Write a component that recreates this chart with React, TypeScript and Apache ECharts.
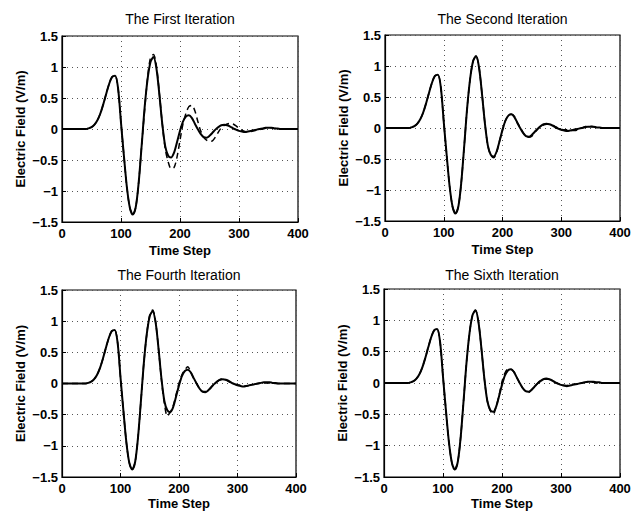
import React, { useEffect, useRef } from "react";
import * as echarts from "echarts";

const steps: number[] = [
  0, 5, 10, 15, 20, 25, 30, 35, 40, 45, 50, 55, 60, 65, 70, 75, 80, 85, 90, 95,
  100, 105, 110, 115, 120, 125, 130, 135, 140, 145, 150, 155, 160, 165, 170, 175, 180, 185, 190, 195,
  200, 205, 210, 215, 220, 225, 230, 235, 240, 245, 250, 255, 260, 265, 270, 275, 280, 285, 290, 295,
  300, 305, 310, 315, 320, 325, 330, 335, 340, 345, 350, 355, 360, 365, 370, 375, 380, 385, 390, 395, 400,
];

// target field (solid)
const target: number[] = [
  0, 0, 0, 0, 0, 0, 0, 0, 0, 0.01, 0.03, 0.07, 0.14, 0.25, 0.4, 0.57, 0.73, 0.84, 0.86, 0.66,
  0.1, -0.44, -0.94, -1.27, -1.38, -1.26, -0.86, -0.27, 0.34, 0.8, 1.08, 1.16, 0.98, 0.56, 0.08, -0.28, -0.43, -0.46, -0.38, -0.21,
  -0.03, 0.12, 0.2, 0.22, 0.18, 0.09, 0.0, -0.08, -0.13, -0.14, -0.11, -0.06, -0.01, 0.03, 0.06, 0.07, 0.06, 0.04, 0.01, -0.01,
  -0.03, -0.04, -0.05, -0.04, -0.03, -0.02, -0.01, 0.0, 0.01, 0.02, 0.02, 0.02, 0.01, 0.01, 0, 0, 0, 0, 0, 0, 0,
];

// reconstructed field after each iteration (dashed)
const iter1: number[] = [
  0, 0, 0, 0, 0, 0, 0, 0, 0, 0.01, 0.03, 0.07, 0.14, 0.25, 0.4, 0.57, 0.73, 0.84, 0.86, 0.66,
  0.1, -0.44, -0.94, -1.27, -1.38, -1.26, -0.86, -0.27, 0.3, 0.82, 1.15, 1.2, 1.02, 0.58, 0.08, -0.32, -0.53, -0.64, -0.62, -0.45,
  -0.18, 0.08, 0.25, 0.36, 0.38, 0.3, 0.13, -0.03, -0.13, -0.18, -0.2, -0.19, -0.13, -0.05, 0.02, 0.06, 0.08, 0.09, 0.08, 0.05,
  0.01, -0.02, -0.04, -0.05, -0.04, -0.03, -0.02, -0.01, 0.0, 0.01, 0.02, 0.02, 0.01, 0.01, 0, 0, 0, 0, 0, 0, 0,
];

const iter2: number[] = [
  0, 0, 0, 0, 0, 0, 0, 0, 0, 0.01, 0.03, 0.07, 0.14, 0.25, 0.4, 0.57, 0.73, 0.84, 0.86, 0.66,
  0.1, -0.44, -0.94, -1.27, -1.38, -1.26, -0.86, -0.27, 0.34, 0.8, 1.08, 1.16, 0.98, 0.56, 0.08, -0.28, -0.44, -0.48, -0.39, -0.21,
  -0.03, 0.12, 0.2, 0.22, 0.19, 0.09, 0.01, -0.07, -0.14, -0.15, -0.13, -0.07, -0.02, 0.03, 0.05, 0.06, 0.06, 0.05, 0.02, 0.0,
  -0.02, -0.03, -0.03, -0.04, -0.04, -0.04, -0.02, 0.0, 0.02, 0.03, 0.03, 0.02, 0.01, 0.0, 0, 0, 0, 0, 0, 0, 0,
];

const iter4: number[] = [
  0, 0, 0, 0, 0, 0, 0, 0, 0, 0.01, 0.03, 0.07, 0.14, 0.25, 0.4, 0.57, 0.73, 0.84, 0.86, 0.66,
  0.1, -0.44, -0.94, -1.27, -1.38, -1.26, -0.86, -0.27, 0.34, 0.8, 1.1, 1.18, 0.99, 0.56, 0.06, -0.32, -0.52, -0.46, -0.36, -0.18,
  0.0, 0.14, 0.22, 0.27, 0.18, 0.08, 0.0, -0.08, -0.13, -0.13, -0.11, -0.06, -0.01, 0.03, 0.06, 0.08, 0.06, 0.03, 0.01, -0.01,
  -0.02, -0.03, -0.04, -0.04, -0.03, -0.02, -0.01, 0.0, 0.01, 0.01, 0.01, 0.01, 0.01, 0.0, 0, 0, 0, 0, 0, 0, 0,
];

const iter6: number[] = [
  0, 0, 0, 0, 0, 0, 0, 0, 0, 0.01, 0.03, 0.07, 0.14, 0.25, 0.4, 0.57, 0.73, 0.84, 0.86, 0.66,
  0.1, -0.44, -0.94, -1.27, -1.38, -1.26, -0.86, -0.27, 0.34, 0.8, 1.08, 1.16, 0.98, 0.56, 0.08, -0.28, -0.44, -0.5, -0.38, -0.2,
  0.02, 0.16, 0.22, 0.22, 0.18, 0.09, 0.0, -0.08, -0.13, -0.15, -0.11, -0.06, -0.01, 0.04, 0.06, 0.06, 0.06, 0.04, 0.01, -0.01,
  -0.03, -0.04, -0.04, -0.03, -0.02, -0.02, -0.01, 0.0, 0.01, 0.01, 0.01, 0.01, 0.0, 0.0, 0, 0, 0, 0, 0, 0, 0,
];

const titles: string[] = ["The First Iteration", "The Second Iteration", "The Fourth Iteration", "The Sixth Iteration"];
const iterations: number[][] = [iter1, iter2, iter4, iter6];
const xTicks: number[] = [0, 100, 200, 300, 400];
const yTicks: number[] = [-1.5, -1, -0.5, 0, 0.5, 1, 1.5];

const grids = [
  { left: 62, top: 36, width: 236, height: 186, titleTop: 12, nameGap: 22 },
  { left: 385, top: 35, width: 235, height: 186, titleTop: 12, nameGap: 22 },
  { left: 62, top: 290, width: 234, height: 187, titleTop: 268, nameGap: 20 },
  { left: 384, top: 289, width: 236, height: 188, titleTop: 268, nameGap: 20 },
];

const FONT = "Liberation Sans, Arial, Helvetica, sans-serif";

export default function App() {
  const ref = useRef<HTMLDivElement>(null);
  useEffect(() => {
    if (!ref.current) return;
    const chart = echarts.init(ref.current, undefined, { renderer: "svg" });
    const toPairs = (ys: number[]) => steps.map((x, i) => [x, ys[i]]);
    const fmtY = (v: number) => String(v).replace("-", "\u2212");
    const option: any = {
      animation: false,
      backgroundColor: "#ffffff",
      textStyle: { fontFamily: FONT },
      title: grids.map((g, i) => ({
        text: titles[i],
        left: g.left + g.width / 2,
        textAlign: "center",
        top: g.titleTop,
        padding: 0,
        textStyle: { fontFamily: FONT, fontSize: 14, fontWeight: "normal", color: "#000" },
      })),
      grid: grids.map((g) => ({
        left: g.left,
        top: g.top,
        width: g.width,
        height: g.height,
        show: true,
        borderColor: "#000",
        borderWidth: 1.2,
        backgroundColor: "transparent",
      })),
      xAxis: grids.map((g, i) => ({
        type: "value",
        gridIndex: i,
        min: xTicks[0],
        max: xTicks[xTicks.length - 1],
        interval: 100,
        name: "Time Step",
        nameLocation: "middle",
        nameGap: g.nameGap,
        nameTextStyle: { fontFamily: FONT, fontSize: 13, fontWeight: "bold", color: "#000" },
        axisLine: { show: true, onZero: false, lineStyle: { color: "#000", width: 1.2 } },
        axisTick: { show: true, inside: true, length: 4, lineStyle: { color: "#000" } },
        axisLabel: { margin: 5, fontFamily: FONT, fontSize: 13, fontWeight: "bold", color: "#000" },
        splitLine: { show: true, lineStyle: { color: "#555", type: [1, 4], width: 1 } },
      })),
      yAxis: grids.map((g, i) => ({
        type: "value",
        gridIndex: i,
        min: yTicks[0],
        max: yTicks[yTicks.length - 1],
        interval: 0.5,
        name: "Electric Field (V/m)",
        nameLocation: "middle",
        nameGap: 35,
        nameTextStyle: { fontFamily: FONT, fontSize: 13, fontWeight: "bold", color: "#000" },
        axisLine: { show: true, onZero: false, lineStyle: { color: "#000", width: 1.2 } },
        axisTick: { show: true, inside: true, length: 4, lineStyle: { color: "#000" } },
        axisLabel: { margin: 4, fontFamily: FONT, fontSize: 13, fontWeight: "bold", color: "#000", formatter: fmtY },
        splitLine: { show: true, lineStyle: { color: "#555", type: [1, 4], width: 1 } },
      })),
      series: grids.flatMap((g, i) => [
        {
          type: "line",
          name: "target",
          xAxisIndex: i,
          yAxisIndex: i,
          data: toPairs(target),
          showSymbol: false,
          smooth: 0.3,
          lineStyle: { color: "#000", width: 2 },
          z: 3,
        },
        {
          type: "line",
          name: "reconstructed",
          xAxisIndex: i,
          yAxisIndex: i,
          data: toPairs(iterations[i]),
          showSymbol: false,
          smooth: 0.3,
          lineStyle: { color: "#000", width: 1.5, type: [6, 4] },
          z: 2,
        },
      ]),
    };
    chart.setOption(option);
    return () => chart.dispose();
  }, []);
  return (
    <div
      ref={ref}
      style={{ position: "fixed", left: 0, top: 0, width: 634, height: 513, background: "#fff" }}
    />
  );
}
